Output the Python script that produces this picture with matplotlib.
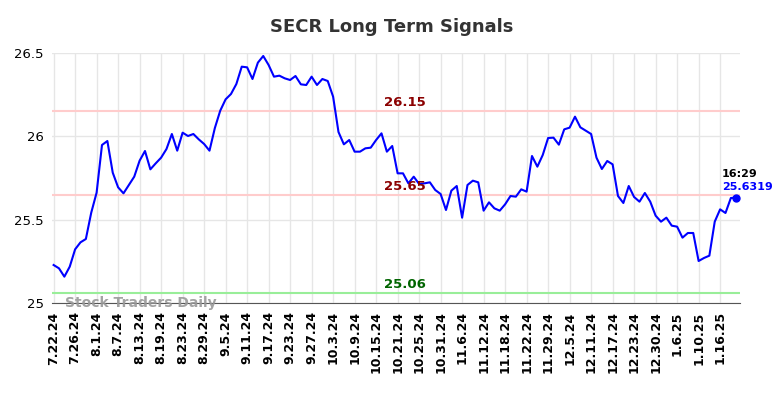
import numpy as np
import matplotlib.pyplot as plt

# daily closes
prices = [
    25.228, 25.208, 25.158, 25.218, 25.322, 25.364, 25.384, 25.542, 25.662, 25.948,
    25.972, 25.782, 25.694, 25.658, 25.708, 25.758, 25.854, 25.912, 25.802, 25.838,
    25.872, 25.924, 26.014, 25.914, 26.022, 26.002, 26.014, 25.982, 25.954, 25.914,
    26.050, 26.154, 26.222, 26.254, 26.314, 26.418, 26.414, 26.344, 26.442, 26.482,
    26.428, 26.358, 26.364, 26.348, 26.338, 26.362, 26.312, 26.308, 26.358, 26.308,
    26.344, 26.332, 26.238, 26.026, 25.952, 25.978, 25.908, 25.908, 25.928, 25.932,
    25.978, 26.018, 25.908, 25.942, 25.778, 25.778, 25.718, 25.758, 25.714, 25.718,
    25.724, 25.678, 25.654, 25.558, 25.674, 25.702, 25.512, 25.708, 25.734, 25.724,
    25.554, 25.604, 25.568, 25.554, 25.592, 25.642, 25.638, 25.682, 25.668, 25.882,
    25.818, 25.888, 25.990, 25.992, 25.950, 26.042, 26.052, 26.118, 26.054, 26.034,
    26.014, 25.872, 25.804, 25.852, 25.832, 25.642, 25.600, 25.702, 25.636, 25.608,
    25.660, 25.608, 25.524, 25.488, 25.512, 25.464, 25.458, 25.392, 25.420, 25.420,
    25.252, 25.270, 25.284, 25.488, 25.562, 25.540, 25.630, 25.6319,
]

tick_labels = [
    "7.22.24", "7.26.24", "8.1.24", "8.7.24", "8.13.24", "8.19.24", "8.23.24",
    "8.29.24", "9.5.24", "9.11.24", "9.17.24", "9.23.24", "9.27.24", "10.3.24",
    "10.9.24", "10.15.24", "10.21.24", "10.25.24", "10.31.24", "11.6.24",
    "11.12.24", "11.18.24", "11.22.24", "11.29.24", "12.5.24", "12.11.24",
    "12.17.24", "12.23.24", "12.30.24", "1.6.25", "1.10.25", "1.16.25",
]

resistance_hi = 26.15
resistance_lo = 25.65
support = 25.06
last_time = "16:29"

x = np.arange(len(prices))
tick_pos = np.arange(len(tick_labels)) * 4

fig = plt.figure(figsize=(7.84, 3.98), dpi=100)
ax = fig.add_axes([52 / 784, 1 - 303 / 398, (740 - 52) / 784, 250 / 398])

ax.grid(True, color="#e6e6e6", linewidth=1)
ax.set_axisbelow(True)

# signal levels
ax.axhline(resistance_hi, color="#ffcccc", linewidth=1.5)
ax.axhline(resistance_lo, color="#ffcccc", linewidth=1.5)
ax.axhline(support, color="#99ee99", linewidth=1.5)

ax.plot(x, prices, color="#0000ff", linewidth=1.5)
ax.plot(x[-1], prices[-1], "o", color="#0000ff", markersize=5)

mid = 65.3
for lvl, col in [(resistance_hi, "#8b0000"), (resistance_lo, "#8b0000"), (support, "#006400")]:
    ax.text(mid, lvl + 0.012, f"{lvl:.2f}", color=col,
            fontsize=9.5, fontweight="bold", ha="center", va="bottom")

ax.text(x[-1] - 2.7, prices[-1] + 0.11, last_time, color="black",
        fontsize=8, fontweight="bold", ha="left", va="bottom")
ax.text(x[-1] - 2.7, prices[-1] + 0.035, f"{prices[-1]:.4f}", color="#0000ff",
        fontsize=8, fontweight="bold", ha="left", va="bottom")

ax.text(2.2, 25.0, "Stock Traders Daily", color="#999999", fontsize=10,
        fontweight="bold", ha="left", va="center", alpha=0.9)

ax.set_xlim(-0.3, 127.7)
ax.set_ylim(25, 26.5)
ax.set_yticks([25, 25.5, 26, 26.5])
ax.set_yticklabels(["25", "25.5", "26", "26.5"])
ax.set_xticks(tick_pos)
ax.set_xticklabels(tick_labels, rotation=90, fontsize=9, fontweight="bold")
ax.tick_params(axis="both", length=0, pad=6)
ax.tick_params(axis="y", labelsize=9.5)

for side in ["top", "right", "left"]:
    ax.spines[side].set_visible(False)
ax.spines["bottom"].set_color("#555555")

fig.suptitle("SECR Long Term Signals", x=0.5, y=1 - 27 / 398, va="center",
             fontsize=13, fontweight="bold", color="#333333")

fig.savefig("out.png", dpi=100)
